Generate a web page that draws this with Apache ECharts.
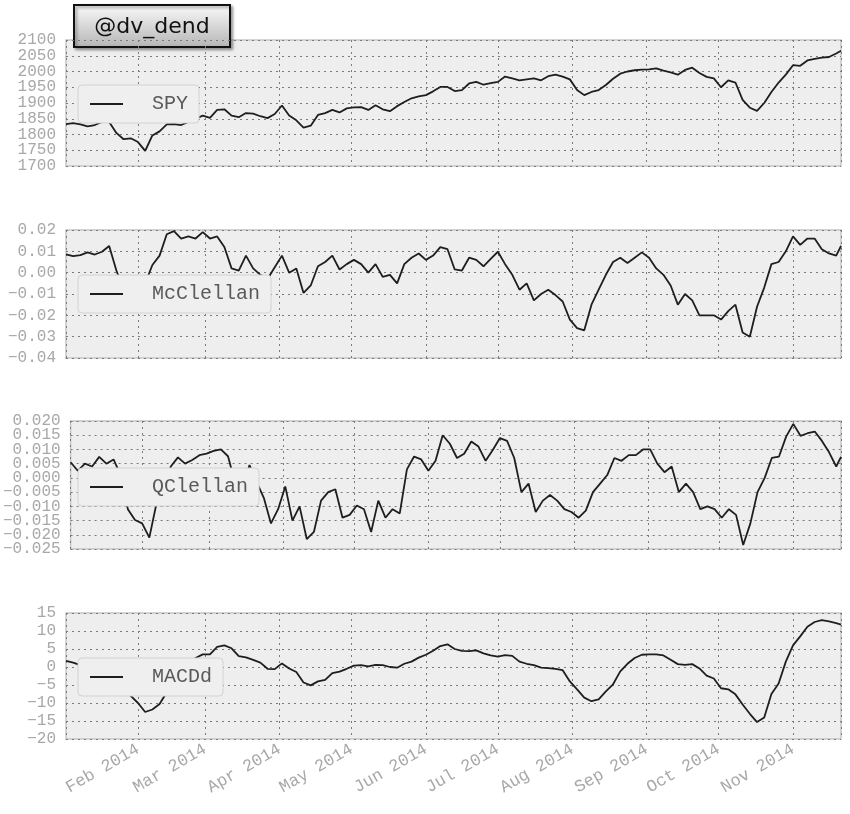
<!DOCTYPE html>
<html>
<head>
<meta charset="utf-8">
<script src="https://cdn.jsdelivr.net/npm/echarts@6/dist/echarts.min.js"></script>
<style>
  html, body { margin: 0; padding: 0; background: #ffffff; }
  #chartDemo { width: 850px; height: 814px; }
</style>
</head>
<body>
<div id="chartDemo"></div>
<script>
(function () {
    'use strict';

    // sample dates (every 3 days)
    var dates = [
        '2014-01-02', '2014-01-05', '2014-01-08', '2014-01-11', '2014-01-14', '2014-01-17', '2014-01-20', '2014-01-23',
        '2014-01-26', '2014-01-29', '2014-02-01', '2014-02-04', '2014-02-07', '2014-02-10', '2014-02-13', '2014-02-16',
        '2014-02-19', '2014-02-22', '2014-02-25', '2014-02-28', '2014-03-03', '2014-03-06', '2014-03-09', '2014-03-12',
        '2014-03-15', '2014-03-18', '2014-03-21', '2014-03-24', '2014-03-27', '2014-03-30', '2014-04-02', '2014-04-05',
        '2014-04-08', '2014-04-11', '2014-04-14', '2014-04-17', '2014-04-20', '2014-04-23', '2014-04-26', '2014-04-29',
        '2014-05-02', '2014-05-05', '2014-05-08', '2014-05-11', '2014-05-14', '2014-05-17', '2014-05-20', '2014-05-23',
        '2014-05-26', '2014-05-29', '2014-06-01', '2014-06-04', '2014-06-07', '2014-06-10', '2014-06-13', '2014-06-16',
        '2014-06-19', '2014-06-22', '2014-06-25', '2014-06-28', '2014-07-01', '2014-07-04', '2014-07-07', '2014-07-10',
        '2014-07-13', '2014-07-16', '2014-07-19', '2014-07-22', '2014-07-25', '2014-07-28', '2014-07-31', '2014-08-03',
        '2014-08-06', '2014-08-09', '2014-08-12', '2014-08-15', '2014-08-18', '2014-08-21', '2014-08-24', '2014-08-27',
        '2014-08-30', '2014-09-02', '2014-09-05', '2014-09-08', '2014-09-11', '2014-09-14', '2014-09-17', '2014-09-20',
        '2014-09-23', '2014-09-26', '2014-09-29', '2014-10-02', '2014-10-05', '2014-10-08', '2014-10-11', '2014-10-14',
        '2014-10-17', '2014-10-20', '2014-10-23', '2014-10-26', '2014-10-29', '2014-11-01', '2014-11-04', '2014-11-07',
        '2014-11-10', '2014-11-13', '2014-11-16', '2014-11-19', '2014-11-21'
    ];

    var spy = [
        1833, 1836, 1832, 1826, 1830, 1840, 1840, 1805, 1785, 1788, 1776, 1748, 1797, 1810, 1832, 1833,
        1830, 1840, 1850, 1860, 1853, 1878, 1880, 1860, 1855, 1868, 1866, 1858, 1852, 1865, 1892, 1860,
        1845, 1822, 1828, 1862, 1868, 1878, 1870, 1883, 1886, 1887, 1878, 1893, 1880, 1874, 1890, 1903,
        1915, 1921, 1925, 1937, 1951, 1951, 1938, 1941, 1962, 1967, 1958, 1963, 1967, 1984, 1978, 1972,
        1975, 1978, 1972, 1985, 1990, 1984, 1975, 1941, 1925, 1935, 1941, 1957, 1977, 1993, 2000, 2004,
        2006, 2007, 2010, 2003, 1997, 1990, 2005, 2012, 1995, 1983, 1978, 1950, 1972, 1965, 1910, 1885,
        1875, 1900, 1935, 1965, 1990, 2020, 2018, 2035, 2040, 2044, 2046, 2057, 2066
    ];

    var mcclellan = [
        0.0086, 0.0078, 0.0082, 0.0095, 0.0085, 0.0098, 0.0125, 0.001, -0.008, -0.012, -0.010, -0.005, 0.0036, 0.008, 0.018, 0.0195,
        0.016, 0.017, 0.016, 0.019, 0.016, 0.017, 0.012, 0.002, 0.001, 0.008, 0.002, -0.001, -0.003, 0.0025, 0.008, 0.0,
        0.002, -0.0095, -0.006, 0.003, 0.005, 0.008, 0.0015, 0.004, 0.006, 0.004, 0.0, 0.004, -0.002, -0.001, -0.005, 0.004,
        0.007, 0.009, 0.006, 0.008, 0.012, 0.011, 0.0015, 0.001, 0.007, 0.006, 0.003, 0.0065, 0.0098, 0.004, -0.001, -0.008,
        -0.005, -0.013, -0.010, -0.008, -0.0105, -0.0135, -0.022, -0.026, -0.027, -0.015, -0.008, -0.001, 0.005, 0.007, 0.0045, 0.007,
        0.0095, 0.007, 0.002, -0.001, -0.006, -0.015, -0.010, -0.013, -0.020, -0.020, -0.020, -0.022, -0.018, -0.015, -0.028, -0.030,
        -0.016, -0.007, 0.004, 0.005, 0.010, 0.017, 0.013, 0.016, 0.016, 0.011, 0.009, 0.008, 0.0125
    ];

    var qclellan = [
        0.0055, 0.0025, 0.005, 0.004, 0.0074, 0.005, 0.0065, 0.001, -0.011, -0.0148, -0.016, -0.021, -0.009, -0.003, 0.004, 0.0072,
        0.005, 0.0063, 0.008, 0.0085, 0.0095, 0.010, 0.0076, -0.002, -0.004, 0.0045, -0.0015, -0.007, -0.016, -0.011, -0.003, -0.015,
        -0.010, -0.0215, -0.019, -0.008, -0.005, -0.004, -0.014, -0.013, -0.0097, -0.011, -0.019, -0.008, -0.014, -0.011, -0.0125, 0.003,
        0.0075, 0.0065, 0.0025, 0.006, 0.015, 0.012, 0.007, 0.0085, 0.0128, 0.011, 0.006, 0.0098, 0.014, 0.013, 0.007, -0.005,
        -0.002, -0.012, -0.008, -0.006, -0.008, -0.011, -0.012, -0.014, -0.0115, -0.005, -0.002, 0.001, 0.007, 0.006, 0.008, 0.008,
        0.010, 0.010, 0.005, 0.002, 0.004, -0.005, -0.002, -0.005, -0.011, -0.010, -0.011, -0.014, -0.011, -0.013, -0.0236, -0.016,
        -0.005, 0.0, 0.007, 0.0075, 0.0145, 0.019, 0.0148, 0.0157, 0.0163, 0.013, 0.009, 0.004, 0.0074
    ];

    var macdd = [
        1.7, 1.2, 0.5, -0.5, -1.5, -2.5, -3.5, -5.0, -6.5, -8.0, -10.0, -12.5, -11.8, -10.3, -7.0, -4.0,
        -1.5, 0.5, 2.5, 3.5, 3.5, 5.6, 6.0, 5.2, 3.0, 2.7, 2.0, 1.2, -0.5, -0.6, 1.0, -0.4,
        -1.4, -4.3, -5.1, -4.0, -3.6, -1.7, -1.3, -0.5, 0.4, 0.5, 0.2, 0.6, 0.5, 0.0, -0.2, 0.9,
        1.5, 2.6, 3.4, 4.5, 5.8, 6.3, 5.0, 4.5, 4.4, 4.6, 3.8, 3.2, 2.9, 3.3, 3.1, 1.5,
        0.9, 0.5, -0.2, -0.3, -0.5, -0.9, -4.0, -6.2, -8.5, -9.5, -9.0, -6.8, -4.8, -1.2, 0.9, 2.5,
        3.4, 3.5, 3.5, 3.2, 2.0, 0.8, 0.6, 0.8, -0.4, -2.4, -3.2, -5.9, -6.2, -7.6, -10.4, -13.0,
        -15.3, -14.0, -7.5, -4.6, 1.5, 6.0, 8.5, 11.2, 12.5, 13.0, 12.7, 12.2, 11.8
    ];

    var monthNames = ['Jan', 'Feb', 'Mar', 'Apr', 'May', 'Jun', 'Jul', 'Aug', 'Sep', 'Oct', 'Nov', 'Dec'];

    // one panel per indicator: name, values, y range, label decimals, grid top/height
    var panels = [
        { name: 'SPY', values: spy, min: 1700, max: 2100, step: 50, dec: 0, top: 40, height: 126, legendTop: 85 },
        { name: 'McClellan', values: mcclellan, min: -0.04, max: 0.02, step: 0.01, dec: 2, top: 230, height: 128, legendTop: 275 },
        { name: 'QClellan', values: qclellan, min: -0.025, max: 0.02, step: 0.005, dec: 3, top: 421, height: 128, legendTop: 468 },
        { name: 'MACDd', values: macdd, min: -20, max: 15, step: 5, dec: 0, top: 613, height: 126, legendTop: 658 }
    ];

    var monoFont = '"Liberation Mono", "DejaVu Sans Mono", monospace';
    var gridLine = { show: true, lineStyle: { color: '#7a7a7a', width: 1, type: [2, 4] } };

    function initChart() {
        var htmlObj = document.getElementById('chartDemo');
        var eChartObj = echarts.init(htmlObj);

        var grids = [], xAxes = [], yAxes = [], series = [], legends = [];

        // ticks are tightly packed, so every grid gets two y axes that take turns
        // labelling ticks (even / odd); this keeps echarts from dropping labels
        function yAxisFor(p, i, parity) {
            return {
                type: 'value', gridIndex: i, position: 'left', offset: 0,
                min: p.min, max: p.max, interval: p.step,
                axisLine: { show: false }, axisTick: { show: false },
                splitLine: parity === 0 ? gridLine : { show: false },
                axisLabel: {
                    margin: 10, color: '#a8a8a8', fontFamily: monoFont, fontSize: 16,
                    showMinLabel: true, showMaxLabel: true,
                    formatter: function (v) {
                        var k = Math.round((v - p.min) / p.step);
                        if (k % 2 !== parity) {
                            return '';
                        }
                        return v.toFixed(p.dec).replace('-', '\u2212');
                    }
                }
            };
        }

        panels.forEach(function (p, i) {
            grids.push({
                left: 66, right: 9, top: p.top, height: p.height,
                show: true, backgroundColor: '#eeeeee', borderColor: '#c6c6c6', borderWidth: 1.5
            });
            xAxes.push({
                type: 'time', gridIndex: i,
                min: '2014-01-02', max: '2014-11-21',
                minInterval: 28 * 86400000, maxInterval: 31 * 86400000,
                axisLine: { show: false }, axisTick: { show: false },
                splitLine: gridLine,
                axisLabel: {
                    show: i === panels.length - 1,
                    rotate: 30, margin: 9,
                    color: '#a8a8a8', fontFamily: monoFont, fontSize: 17,
                    formatter: function (val) {
                        var d = new Date(val);
                        return monthNames[d.getMonth()] + ' ' + d.getFullYear();
                    }
                }
            });
            yAxes.push(yAxisFor(p, i, 0));
            yAxes.push(yAxisFor(p, i, 1));
            series.push({
                name: p.name, type: 'line',
                xAxisIndex: i, yAxisIndex: 2 * i,
                data: dates.map(function (d, k) { return [d, p.values[k]]; }),
                showSymbol: false, symbol: 'none',
                lineStyle: { color: '#1e1e1e', width: 1.8 },
                itemStyle: { color: '#1e1e1e' },
                animation: false
            });
            legends.push({
                data: [p.name],
                left: 78, top: p.legendTop,
                icon: 'rect', itemWidth: 33, itemHeight: 2,
                padding: [9, 11, 9, 12],
                backgroundColor: '#efefef', borderColor: '#d2d2d2', borderWidth: 1, borderRadius: 4,
                selectedMode: false,
                textStyle: { color: '#5a5a5a', fontFamily: monoFont, fontSize: 20 },
                formatter: function (name) { return '  ' + name; }
            });
        });

        var options = {
            backgroundColor: '#ffffff',
            animation: false,
            grid: grids,
            xAxis: xAxes,
            yAxis: yAxes,
            legend: legends,
            series: series,
            graphic: [{
                type: 'group', x: 74, y: 5, z: 100,
                children: [{
                    type: 'rect',
                    shape: { x: 0, y: 0, width: 156, height: 42 },
                    style: {
                        fill: new echarts.graphic.LinearGradient(0, 0, 0, 1, [
                            { offset: 0, color: '#fbfbfb' },
                            { offset: 1, color: '#b4b4b4' }
                        ]),
                        stroke: '#111111', lineWidth: 2,
                        shadowBlur: 3, shadowOffsetX: 2, shadowOffsetY: 2, shadowColor: 'rgba(0,0,0,0.35)'
                    }
                }, {
                    type: 'text',
                    x: 78, y: 22,
                    style: {
                        text: '@dv_dend', fill: '#111111',
                        font: '22px "Comic Sans MS", "DejaVu Sans", sans-serif',
                        align: 'center', verticalAlign: 'middle'
                    }
                }]
            }]
        };
        eChartObj.setOption(options);
    }

    initChart();
})();
</script>
</body>
</html>
